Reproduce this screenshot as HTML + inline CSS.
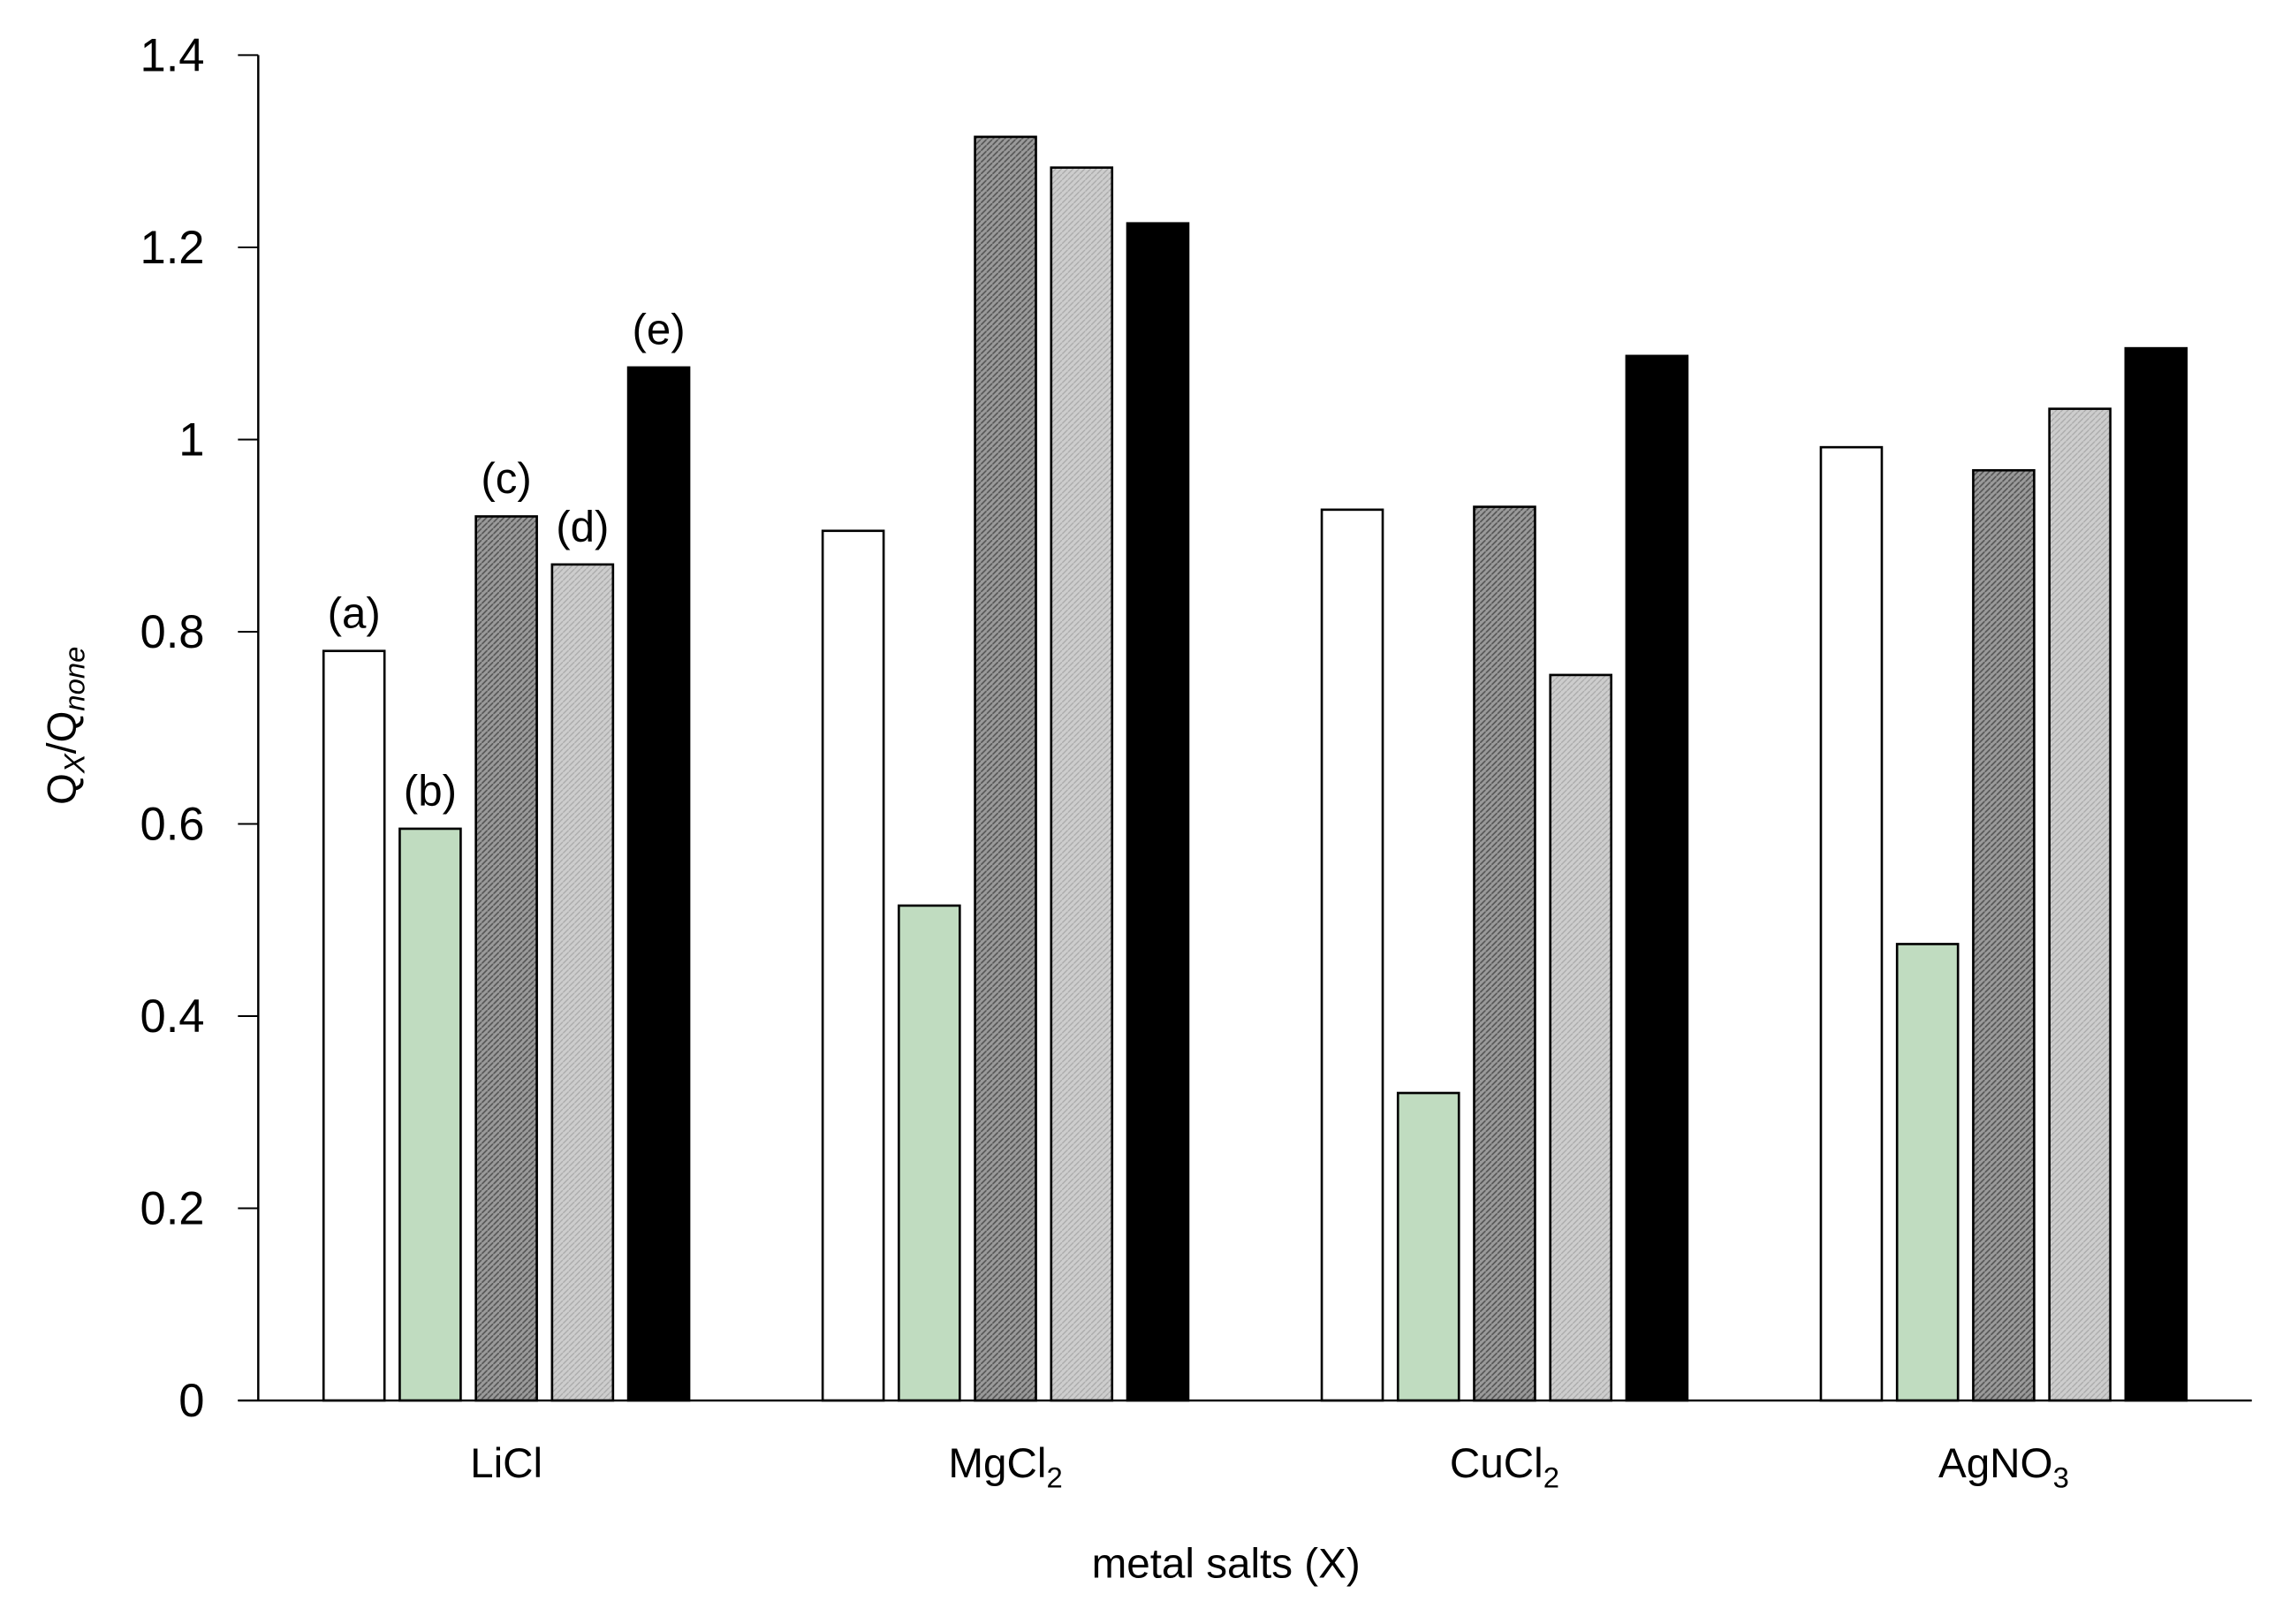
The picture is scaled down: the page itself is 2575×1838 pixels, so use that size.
<!DOCTYPE html>
<html><head><meta charset="utf-8"><style>
html,body{margin:0;padding:0;background:#fff}
svg{display:block;font-family:"Liberation Sans",Arial,sans-serif}
</style></head><body>
<svg id="chart" width="2575" height="1838" viewBox="0 0 1568 1119" preserveAspectRatio="none" xmlns="http://www.w3.org/2000/svg">
<defs>
<pattern id="patC" width="4" height="4" patternUnits="userSpaceOnUse"><rect width="4" height="4" fill="#9a9a9a"/><path d="M0,4 L4,0" stroke="#555" stroke-width="1"/></pattern>
<pattern id="patD" width="4" height="4" patternUnits="userSpaceOnUse"><rect width="4" height="4" fill="#cdcdcd"/><path d="M0,4 L4,0" stroke="#aaa" stroke-width="0.8"/></pattern>
</defs>
<g id="bars"></g>
<g id="axes"></g>
<text transform="translate(52,500) rotate(-90)" text-anchor="middle" font-size="28">Q<tspan font-style="italic" font-size="20" dy="6">X</tspan><tspan dy="-6">/Q</tspan><tspan font-style="italic" font-size="20" dy="6">none</tspan></text>
<text x="845" y="1087" text-anchor="middle" font-size="29">metal salts (X)</text>
</svg>
<script>
const categories = ["LiCl","MgCl2","CuCl2","AgNO3"];
const seriesA = [0.78, 0.905, 0.927, 0.992];
const seriesB = [0.595, 0.515, 0.32, 0.475];
const seriesC = [0.92, 1.315, 0.93, 0.968];
const seriesD = [0.87, 1.283, 0.755, 1.032];
const seriesE = [1.075, 1.225, 1.087, 1.095];
const seriesLabels = ["(a)","(b)","(c)","(d)","(e)"];
const yTicks = [0,0.2,0.4,0.6,0.8,1,1.2,1.4];
const yTickLabels = ["0","0.2","0.4","0.6","0.8","1","1.2","1.4"];

const NS="http://www.w3.org/2000/svg";
const x0=178, x1=1552, yZero=965, yTop=38;
const y=v=>yZero-(v/1.4)*(yZero-yTop);
const groupCenter=i=>349+i*344;
const barW=42, step=52.5;
const fills=["#ffffff","#c0dcc0","url(#patC)","url(#patD)","#000000"];
const series=[seriesA,seriesB,seriesC,seriesD,seriesE];
const bars=document.getElementById('bars'), axes=document.getElementById('axes');
function mk(tag,attrs,parent){const e=document.createElementNS(NS,tag);for(const k in attrs)e.setAttribute(k,attrs[k]);parent.appendChild(e);return e;}
series.forEach((s,si)=>{
  s.forEach((v,ci)=>{
    const left=groupCenter(ci)+(si-2)*step-barW/2;
    const r=mk('rect',{x:left,y:y(v),width:barW,height:yZero-y(v),fill:fills[si],stroke:'#000','stroke-width':1.6},bars);
    
    
    if(ci===0){
      const t=mk('text',{x:left+barW/2,y:y(v)-16,'text-anchor':'middle','font-size':30},bars);
      t.textContent=seriesLabels[si];
      
      
    }
  });
});
const ya=mk('line',{x1:x0,y1:yTop,x2:x0,y2:yZero,stroke:'#000','stroke-width':1.5},axes);


const xa=mk('line',{x1:x0-14,y1:yZero,x2:x1,y2:yZero,stroke:'#000','stroke-width':1.5},axes);


yTicks.forEach((v,i)=>{
  const tk=mk('line',{x1:x0-14,y1:y(v),x2:x0,y2:y(v),stroke:'#000','stroke-width':1.2},axes);
  
  
  const t=mk('text',{x:141,y:y(v)+11,'text-anchor':'end','font-size':32},axes);
  t.textContent=yTickLabels[i];
  
  
});
categories.forEach((c,i)=>{
  const t=mk('text',{x:groupCenter(i),y:1018,'text-anchor':'middle','font-size':29},axes);
  const m=c.match(/^([A-Za-z]+?)(\d)$/);
  if(m){t.appendChild(document.createTextNode(m[1]));const sub=mk('tspan',{'font-size':20,dy:7},t);sub.textContent=m[2];}
  else t.textContent=c;
  
  
});
</script>
</body></html>
